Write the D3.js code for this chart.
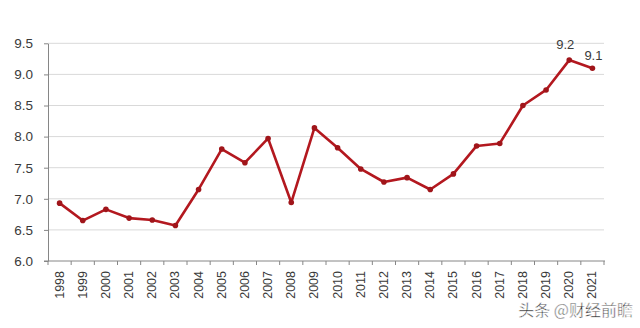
<!DOCTYPE html>
<html>
<head>
<meta charset="utf-8">
<script src="https://cdn.jsdelivr.net/npm/d3@7"></script>
<style>
  body { margin: 0; background: #fff; }
  svg { display: block; }
</style>
</head>
<body>
<div id="chart"></div>
<script>
const years = ["1998", "1999", "2000", "2001", "2002", "2003", "2004", "2005", "2006", "2007", "2008", "2009",
    "2010", "2011", "2012", "2013", "2014", "2015", "2016", "2017", "2018", "2019", "2020", "2021"];
const values = [6.93, 6.65, 6.83, 6.69, 6.66, 6.57, 7.15, 7.80, 7.58, 7.97, 6.94, 8.14,
    7.82, 7.48, 7.27, 7.34, 7.15, 7.40, 7.85, 7.89, 8.50, 8.75, 9.23, 9.10];
const yTicks = [6.0, 6.5, 7.0, 7.5, 8.0, 8.5, 9.0, 9.5];
// data labels shown on the chart
const labelled = [{ year: "2020", text: "9.2", dx: -4, dy: -11 }, { year: "2021", text: "9.1", dx: 1, dy: -8 }];

const width = 640, height = 328;
const plot = { left: 48, right: 604, top: 43.3, bottom: 261 };

const svg = d3.select("#chart")
    .append("svg")
    .attr("width", width)
    .attr("height", height)
    .style("font-family", "'Liberation Sans', Arial, sans-serif");

const x = d3.scaleBand()
    .domain(years)
    .range([plot.left, plot.right])
    .padding(0);

const y = d3.scaleLinear()
    .domain([6, 9.5])
    .range([plot.bottom, plot.top]);

const cx = d => x(d) + x.bandwidth() / 2;

// gridlines
svg.append("g")
    .selectAll("line")
    .data(yTicks.slice(1))
    .enter()
    .append("line")
    .attr("x1", plot.left)
    .attr("x2", plot.right)
    .attr("y1", d => y(d))
    .attr("y2", d => y(d))
    .attr("stroke", "#d9d9d9")
    .attr("stroke-width", 1);

// y axis
const yAxis = svg.append("g")
    .attr("transform", `translate(${plot.left},0)`)
    .call(d3.axisLeft(y).tickValues(yTicks).tickFormat(d3.format(".1f")).tickSize(4).tickSizeOuter(0).tickPadding(11));
yAxis.select(".domain").attr("stroke", "#868686");
yAxis.selectAll(".tick line").attr("stroke", "#868686");
yAxis.selectAll("text").attr("font-size", 13.5).attr("fill", "#3a3a3a").attr("font-family", "'Liberation Sans', Arial, sans-serif");

// x axis line with ticks at category boundaries
svg.append("line")
    .attr("x1", plot.left - 4)
    .attr("x2", plot.right + 1)
    .attr("y1", plot.bottom)
    .attr("y2", plot.bottom)
    .attr("stroke", "#868686");

svg.append("g")
    .selectAll("line")
    .data(years.concat(["end"]))
    .enter()
    .append("line")
    .attr("x1", d => d === "end" ? plot.right : x(d))
    .attr("x2", d => d === "end" ? plot.right : x(d))
    .attr("y1", plot.bottom)
    .attr("y2", plot.bottom + 4)
    .attr("stroke", "#868686");

svg.append("g")
    .selectAll("text")
    .data(years)
    .enter()
    .append("text")
    .attr("transform", d => `translate(${cx(d) + 4},${plot.bottom + 10}) rotate(-90)`)
    .attr("text-anchor", "end")
    .attr("font-size", 12.5)
    .attr("fill", "#3a3a3a")
    .text(d => d);

// line
const line = d3.line()
    .x((d, i) => cx(years[i]))
    .y(d => y(d));

svg.append("path")
    .datum(values)
    .attr("fill", "none")
    .attr("stroke", "#b3181f")
    .attr("stroke-width", 2.6)
    .attr("stroke-linejoin", "round")
    .attr("d", line);

svg.append("g")
    .selectAll("circle")
    .data(values)
    .enter()
    .append("circle")
    .attr("cx", (d, i) => cx(years[i]))
    .attr("cy", d => y(d))
    .attr("r", 2.8)
    .attr("fill", "#a0151a");

// value labels
svg.append("g")
    .selectAll("text")
    .data(labelled)
    .enter()
    .append("text")
    .attr("x", d => cx(d.year) + d.dx)
    .attr("y", d => y(values[years.indexOf(d.year)]) + d.dy)
    .attr("text-anchor", "middle")
    .attr("font-size", 13)
    .attr("fill", "#3a3a3a")
    .text(d => d.text);

// watermark
svg.append("text")
    .attr("x", 633)
    .attr("y", 316)
    .attr("text-anchor", "end")
    .attr("font-size", 16)
    .attr("font-family", "'Noto Sans CJK SC', sans-serif")
    .attr("fill", "#2a2a2a")
    .attr("stroke", "#fff")
    .attr("stroke-width", 0.5)
    .text("头条 @财经前瞻");
</script>
</body>
</html>
